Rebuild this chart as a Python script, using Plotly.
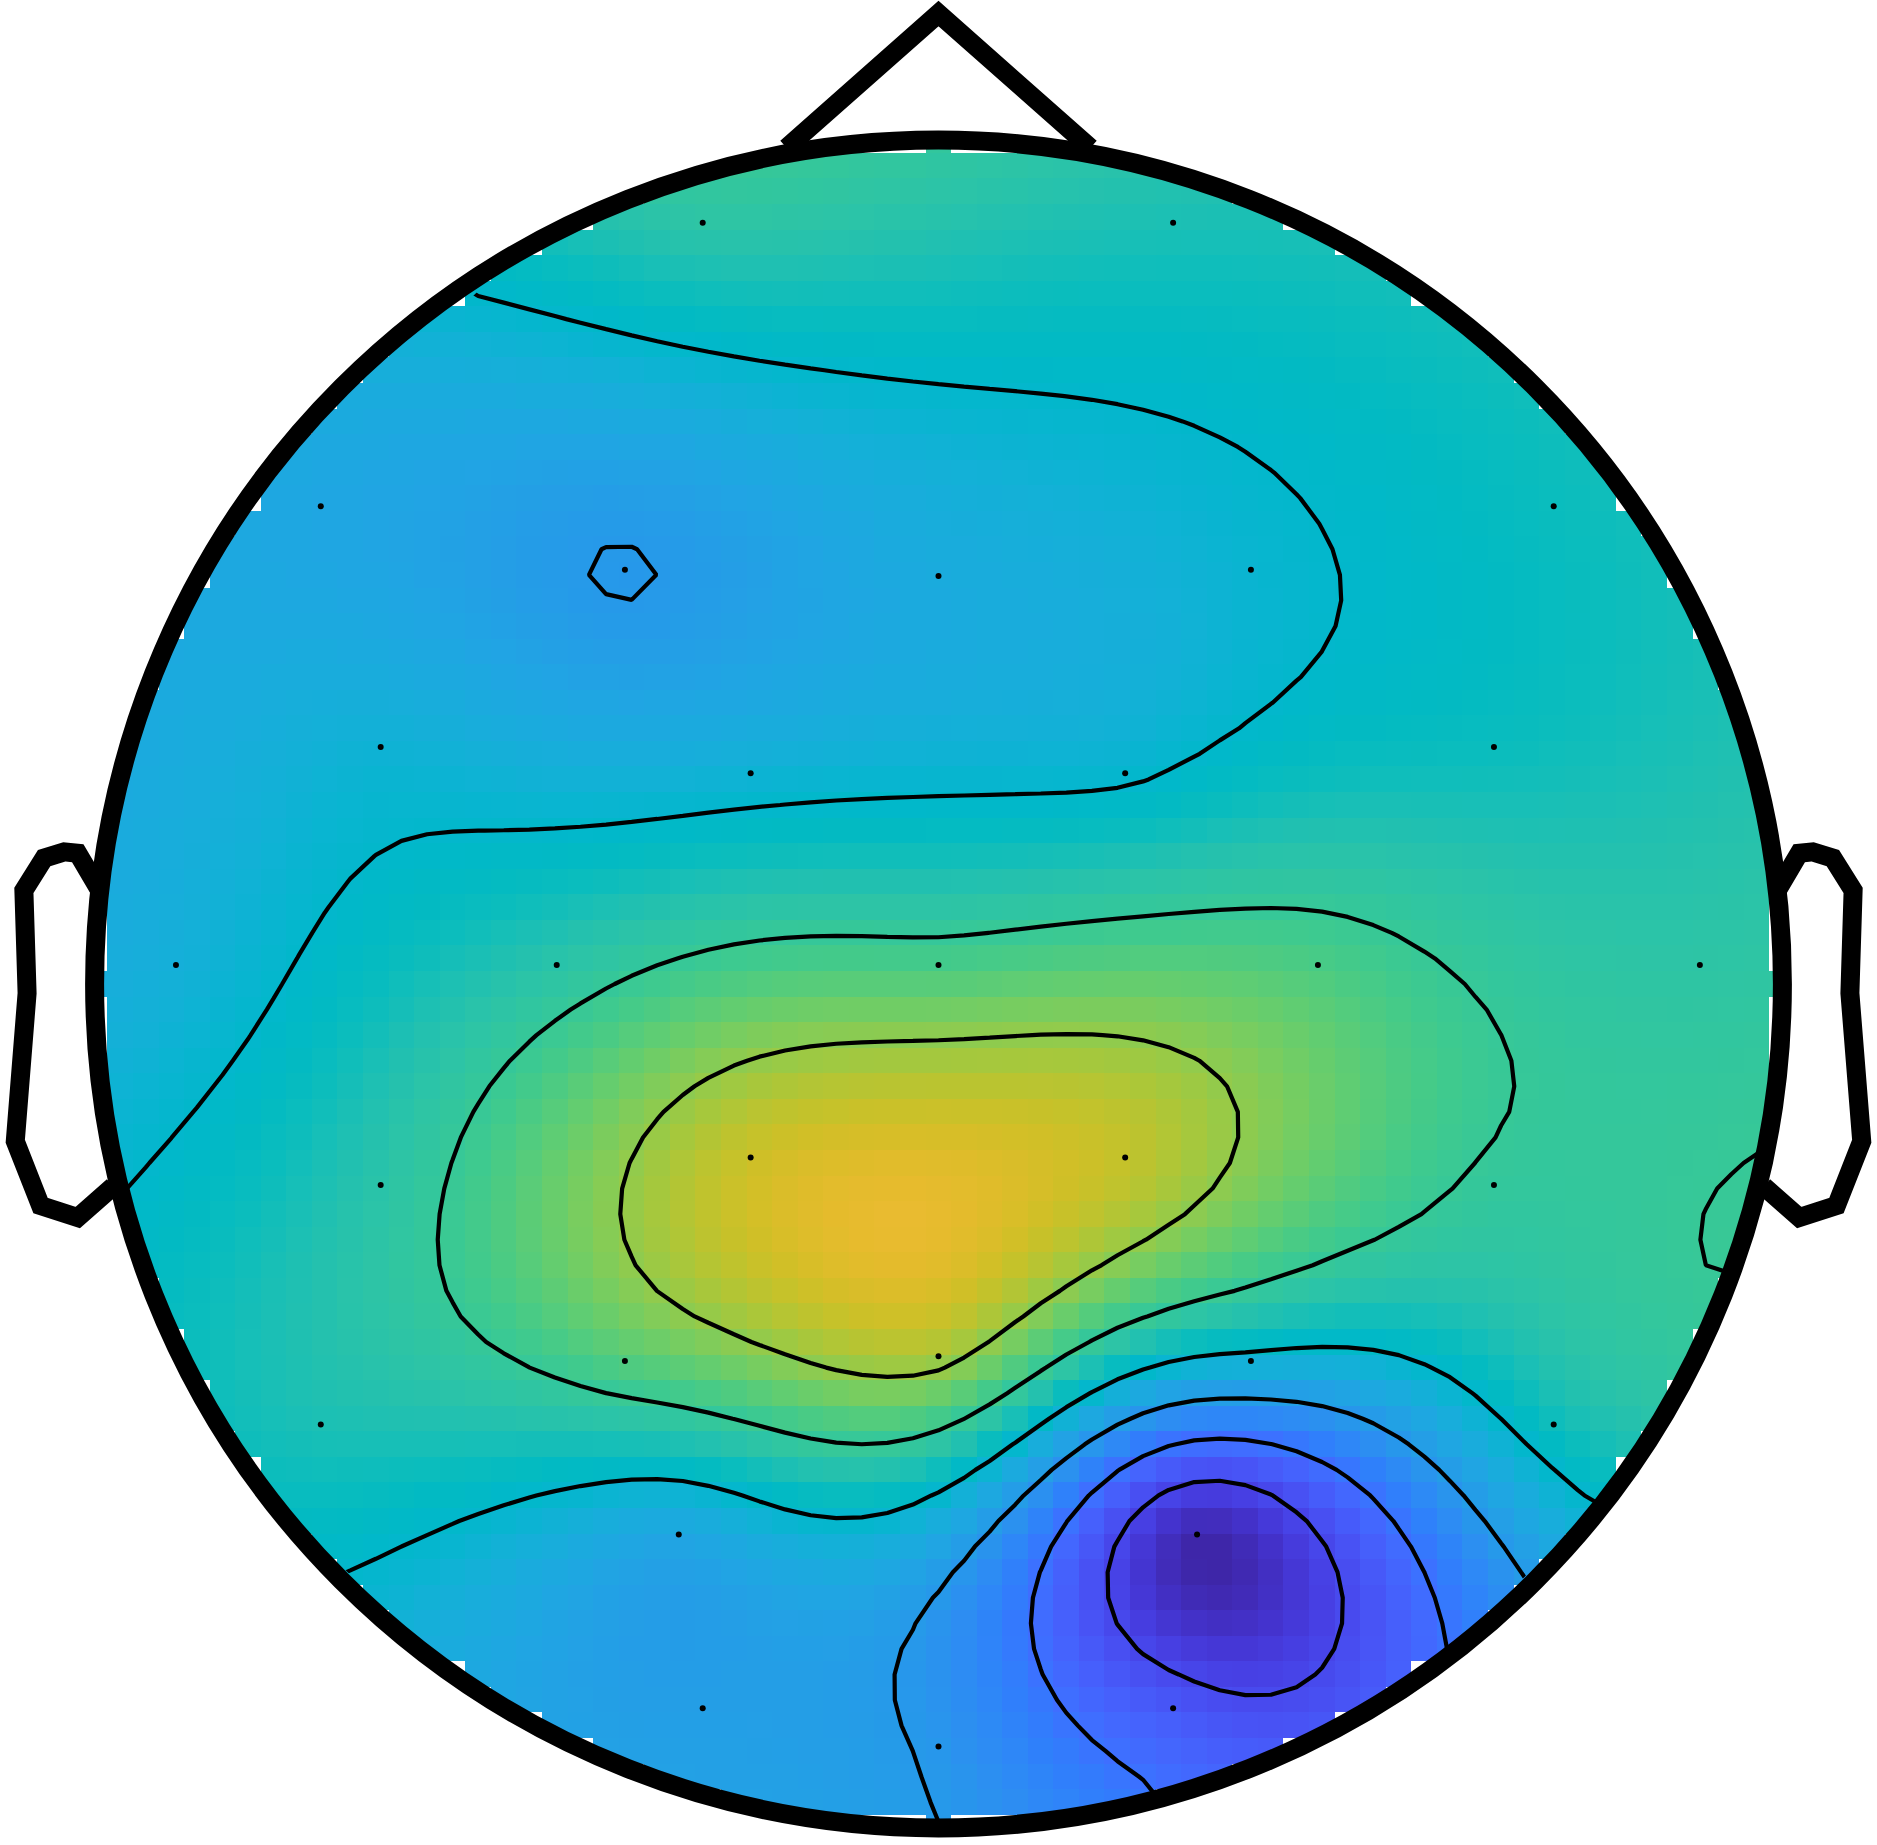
import numpy as np
import plotly.graph_objects as go

# ---------------- data ----------------
channels = ["Fp1", "Fp2", "F7", "F3", "Fz", "F4", "F8", "FC5", "FC1", "FC2", "FC6",
            "T7", "C3", "Cz", "C4", "T8", "CP5", "CP1", "CP2", "CP6",
            "P7", "P3", "Pz", "P4", "P8", "PO3", "PO4", "O1", "Oz", "O2"]
chan_x = [-0.1397, 0.1390, -0.3660, -0.1858, 0.0000, 0.1851, 0.3645, -0.3305, -0.1113, 0.1106, 0.3291,
          -0.4518, -0.2262, 0.0000, 0.2248, 0.4511, -0.3305, -0.1113, 0.1106, 0.3291,
          -0.3660, -0.1858, 0.0000, 0.1851, 0.3645, -0.1539, 0.1532, -0.1397, 0.0000, 0.1390]
chan_y = [0.4511, 0.4511, 0.2830, 0.2454, 0.2418, 0.2454, 0.2830, 0.1404, 0.1248, 0.1248, 0.1404,
          0.0113, 0.0113, 0.0113, 0.0113, 0.0113, -0.1191, -0.1028, -0.1028, -0.1191,
          -0.2610, -0.2234, -0.2206, -0.2234, -0.2610, -0.3262, -0.3262, -0.4291, -0.4518, -0.4291]
chan_values = [0.08, 0.02, -0.22, -0.311, -0.185, -0.11, -0.02, -0.13, -0.13, -0.10, -0.02,
               -0.15, 0.07, 0.19, 0.20, 0.085, 0.07, 0.49, 0.47, 0.12,
               0.02, 0.22, 0.40, -0.12, -0.015, -0.22, -0.95, -0.27, -0.325, -0.66]

# head model (EEGLAB topoplot style), head radius 0.5
ear_x = [0.497, 0.510, 0.518, 0.5299, 0.5419, 0.54, 0.547, 0.532, 0.510, 0.489]
ear_y = [0.0555, 0.0775, 0.0783, 0.0746, 0.0555, -0.0055, -0.0932, -0.1313, -0.1384, -0.1199]
nose_x = [0.09, 0.0, -0.09]
nose_y = [0.4954, 0.575, 0.4954]

parula = [
    (0.2422, 0.1504, 0.6603), (0.2504, 0.1650, 0.7076), (0.2578, 0.1818, 0.7511), (0.2647, 0.1978, 0.7952),
    (0.2706, 0.2147, 0.8364), (0.2751, 0.2342, 0.8710), (0.2783, 0.2559, 0.8991), (0.2803, 0.2782, 0.9221),
    (0.2813, 0.3006, 0.9414), (0.2810, 0.3228, 0.9579), (0.2795, 0.3447, 0.9717), (0.2760, 0.3667, 0.9829),
    (0.2699, 0.3892, 0.9906), (0.2602, 0.4123, 0.9952), (0.2440, 0.4358, 0.9988), (0.2206, 0.4603, 0.9973),
    (0.1963, 0.4847, 0.9892), (0.1834, 0.5074, 0.9798), (0.1786, 0.5289, 0.9682), (0.1764, 0.5499, 0.9520),
    (0.1687, 0.5703, 0.9359), (0.1540, 0.5902, 0.9218), (0.1460, 0.6091, 0.9079), (0.1380, 0.6276, 0.8973),
    (0.1248, 0.6459, 0.8883), (0.1113, 0.6635, 0.8763), (0.0952, 0.6798, 0.8598), (0.0689, 0.6948, 0.8394),
    (0.0297, 0.7082, 0.8163), (0.0036, 0.7203, 0.7917), (0.0067, 0.7312, 0.7660), (0.0433, 0.7411, 0.7394),
    (0.0964, 0.7500, 0.7120), (0.1408, 0.7584, 0.6842), (0.1717, 0.7670, 0.6554), (0.1938, 0.7758, 0.6251),
    (0.2161, 0.7843, 0.5923), (0.2470, 0.7918, 0.5567), (0.2906, 0.7973, 0.5188), (0.3406, 0.8008, 0.4789),
    (0.3909, 0.8029, 0.4354), (0.4456, 0.8024, 0.3909), (0.5044, 0.7993, 0.3480), (0.5616, 0.7942, 0.3045),
    (0.6174, 0.7876, 0.2612), (0.6720, 0.7793, 0.2227), (0.7242, 0.7698, 0.1910), (0.7738, 0.7598, 0.1646),
    (0.8203, 0.7498, 0.1535), (0.8634, 0.7406, 0.1596), (0.9035, 0.7330, 0.1774), (0.9393, 0.7288, 0.2100),
    (0.9728, 0.7298, 0.2394), (0.9956, 0.7434, 0.2371), (0.9970, 0.7659, 0.2199), (0.9952, 0.7893, 0.2028),
    (0.9892, 0.8136, 0.1885), (0.9786, 0.8386, 0.1766), (0.9676, 0.8639, 0.1643), (0.9610, 0.8890, 0.1537),
    (0.9597, 0.9135, 0.1423), (0.9628, 0.9373, 0.1265), (0.9691, 0.9606, 0.1064), (0.9769, 0.9839, 0.0805)]

# ---------------- interpolation (biharmonic spline, as griddata 'v4') ----------------
HEAD_R = 0.5
GRID_N = 67
xe = np.array(chan_x); ye = np.array(chan_y); ve = np.array(chan_values)


def green(d):
    with np.errstate(divide="ignore", invalid="ignore"):
        g = d ** 2 * (np.log(d) - 1.0)
    g[d == 0] = 0.0
    return g


D = np.hypot(xe[:, None] - xe[None, :], ye[:, None] - ye[None, :])
w = np.linalg.solve(green(D), ve)
gx = np.linspace(-HEAD_R, HEAD_R, GRID_N)
gy = np.linspace(-HEAD_R, HEAD_R, GRID_N)
GX, GY = np.meshgrid(gx, gy)
DG = np.hypot(GX.ravel()[:, None] - xe[None, :], GY.ravel()[:, None] - ye[None, :])
Z = (green(DG) @ w).reshape(GX.shape)
Z[np.hypot(GX, GY) > HEAD_R] = np.nan

amax = np.nanmax(np.abs(Z))
zmin, zmax = np.nanmin(Z), np.nanmax(Z)
levels = np.linspace(zmin, zmax, 8)[1:-1]
step = levels[1] - levels[0]

cscale = [[i / (len(parula) - 1), "rgb(%d,%d,%d)" % tuple(int(round(c * 255)) for c in col)]
          for i, col in enumerate(parula)]

fig = go.Figure()
fig.add_trace(go.Heatmap(x=gx, y=gy, z=Z, colorscale=cscale, zmin=-amax, zmax=amax,
                         showscale=False, zsmooth=False, hoverinfo="skip"))
fig.add_trace(go.Contour(x=gx, y=gy, z=Z, showscale=False, hoverinfo="skip",
                         contours=dict(coloring="none", start=levels[0], end=levels[-1] + step * 0.01,
                                       size=step),
                         line=dict(color="black", width=4.2, smoothing=0)))
fig.add_trace(go.Scatter(x=chan_x, y=chan_y, mode="markers", text=channels, hoverinfo="text",
                         marker=dict(color="black", size=6)))

# white mask outside the head so that contour lines stay inside
theta = np.linspace(0, 2 * np.pi, 721)
rm = 0.505
circ = " ".join(("M" if i == 0 else "L") + " %.5f,%.5f" % (rm * np.cos(t), -rm * np.sin(t))
                for i, t in enumerate(theta)) + " Z"
mask_path = "M -2,-2 L 2,-2 L 2,2 L -2,2 Z " + circ

HLW = 19
shapes = [
    dict(type="path", path=mask_path, fillcolor="white", line=dict(width=0), layer="above",
         xref="x", yref="y", fillrule="evenodd"),
    dict(type="circle", x0=-HEAD_R, x1=HEAD_R, y0=-HEAD_R, y1=HEAD_R, xref="x", yref="y",
         line=dict(color="black", width=HLW), layer="above"),
]


def poly(xs, ys):
    return "M " + " L ".join("%.5f,%.5f" % (a, b) for a, b in zip(xs, ys))


shapes.append(dict(type="path", path=poly(nose_x, nose_y), xref="x", yref="y",
                   line=dict(color="black", width=HLW), layer="above"))
shapes.append(dict(type="path", path=poly(ear_x, ear_y), xref="x", yref="y",
                   line=dict(color="black", width=HLW), layer="above"))
shapes.append(dict(type="path", path=poly([-v for v in ear_x], ear_y), xref="x", yref="y",
                   line=dict(color="black", width=HLW), layer="above"))

W, H = 1877, 1845
ppu = 1687.8
cx, cy = 938.5, 984.0
fig.update_layout(
    width=W, height=H, margin=dict(l=0, r=0, t=0, b=0),
    paper_bgcolor="white", plot_bgcolor="white", showlegend=False,
    xaxis=dict(range=[-cx / ppu, (W - cx) / ppu], visible=False, fixedrange=True),
    yaxis=dict(range=[(cy - H) / ppu, cy / ppu], visible=False, fixedrange=True),
    shapes=shapes,
)
fig.write_html("out.html")
